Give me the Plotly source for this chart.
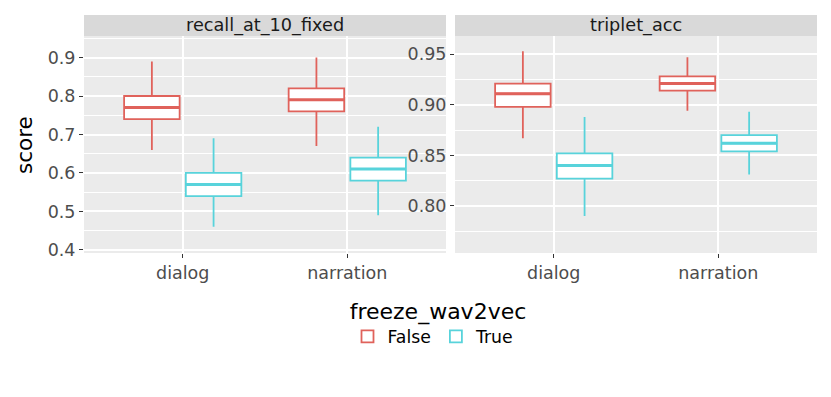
import plotly.graph_objects as go

metrics = ["recall_at_10_fixed", "triplet_acc"]
tasks = ["dialog", "narration"]
groups = ["False", "True"]

# box stats per metric and group, values ordered like `tasks`
recall_low = {"False": [0.66, 0.67], "True": [0.46, 0.49]}
recall_q1 = {"False": [0.74, 0.76], "True": [0.54, 0.58]}
recall_med = {"False": [0.77, 0.79], "True": [0.57, 0.61]}
recall_q3 = {"False": [0.80, 0.82], "True": [0.60, 0.64]}
recall_high = {"False": [0.89, 0.90], "True": [0.69, 0.72]}

triplet_low = {"False": [0.867, 0.894], "True": [0.790, 0.831]}
triplet_q1 = {"False": [0.898, 0.914], "True": [0.827, 0.854]}
triplet_med = {"False": [0.911, 0.921], "True": [0.840, 0.862]}
triplet_q3 = {"False": [0.921, 0.928], "True": [0.852, 0.870]}
triplet_high = {"False": [0.953, 0.947], "True": [0.888, 0.893]}

COLORS = {"False": "#E0625B", "True": "#58D3DB"}

stats = {
    "recall_at_10_fixed": (recall_low, recall_q1, recall_med, recall_q3, recall_high),
    "triplet_acc": (triplet_low, triplet_q1, triplet_med, triplet_q3, triplet_high),
}

W, H = 831, 397
PAGE_PAD = 8  # body margin of the html page


def px_x(px):
    return (px - PAGE_PAD) / W


def px_y(px):
    return 1 - (px - PAGE_PAD) / H


# dodge layout (matches boxgap / boxgroupgap below)
BOXGAP = 0.25
GROUPGAP = 0.1
slot = (1 - BOXGAP) / len(groups)
half_w = slot * (1 - GROUPGAP) / 2

fig = go.Figure()

for i, metric in enumerate(metrics):
    low, q1, med, q3, high = stats[metric]
    suffix = "" if i == 0 else str(i + 1)
    for k, g in enumerate(groups):
        fig.add_trace(go.Box(
            x=tasks,
            lowerfence=low[g],
            q1=q1[g],
            median=med[g],
            q3=q3[g],
            upperfence=high[g],
            name=g,
            legendgroup=g,
            offsetgroup=g,
            alignmentgroup=metric,
            showlegend=(i == 0),
            fillcolor="#FFFFFF",
            line=dict(color=COLORS[g], width=1.8),
            whiskerwidth=0,
            boxpoints=False,
            hoverinfo="skip",
            xaxis="x" + suffix,
            yaxis="y" + suffix,
        ))
        # thicker median line, as ggplot draws it
        center_off = -(1 - BOXGAP) / 2 + slot * (k + 0.5)
        for j, m in enumerate(med[g]):
            fig.add_shape(
                type="line", xref="x" + suffix, yref="y" + suffix,
                x0=j + center_off - half_w, x1=j + center_off + half_w,
                y0=m, y1=m,
                line=dict(color=COLORS[g], width=3),
            )

GRID = "#FFFFFF"
TICK = dict(size=17.5, color="#4D4D4D", family="DejaVu Sans")
y_bottom, y_top = px_y(253), px_y(36)
strip_top = px_y(15)
x_domains = [[px_x(84), px_x(446)], [px_x(455), px_x(817)]]

common_x = dict(
    type="category",
    categoryorder="array",
    categoryarray=tasks,
    range=[-0.6, 1.6],
    showgrid=True,
    gridcolor=GRID,
    gridwidth=1.5,
    ticks="outside",
    ticklen=4,
    tickwidth=1.2,
    tickcolor="#333333",
    tickfont=TICK,
    zeroline=False,
    showline=False,
    automargin=False,
    fixedrange=True,
)
common_y = dict(
    showgrid=True,
    gridcolor=GRID,
    gridwidth=1.5,
    ticks="outside",
    ticklen=4,
    tickwidth=1.2,
    tickcolor="#333333",
    tickfont=TICK,
    zeroline=False,
    showline=False,
    automargin=False,
)

fig.update_layout(
    width=W,
    height=H,
    boxmode="group",
    boxgap=BOXGAP,
    boxgroupgap=GROUPGAP,
    font=dict(family="DejaVu Sans", size=14, color="#1A1A1A"),
    paper_bgcolor="#FFFFFF",
    plot_bgcolor="#EBEBEB",
    margin=dict(t=0, b=0, l=0, r=0),
    xaxis=dict(common_x, domain=x_domains[0], anchor="y"),
    xaxis2=dict(common_x, domain=x_domains[1], anchor="y2"),
    yaxis=dict(
        common_y,
        domain=[y_bottom, y_top],
        anchor="x",
        range=[0.392, 0.956],
        tick0=0,
        dtick=0.1,
        tickformat=".1f",
        minor=dict(dtick=0.05, showgrid=True, gridcolor=GRID, gridwidth=0.7),
    ),
    yaxis2=dict(
        common_y,
        domain=[y_bottom, y_top],
        anchor="x2",
        range=[0.7535, 0.968],
        tick0=0,
        dtick=0.05,
        tickformat=".2f",
        minor=dict(dtick=0.025, showgrid=True, gridcolor=GRID, gridwidth=0.7),
    ),
    legend=dict(
        title=dict(text="freeze_wav2vec", side="top center",
                   font=dict(size=22, color="#000000")),
        orientation="h",
        x=px_x(438),
        xanchor="center",
        y=px_y(290),
        yanchor="top",
        font=dict(size=17.3, color="#000000"),
        bgcolor="rgba(0,0,0,0)",
    ),
)

# facet strips
for i, metric in enumerate(metrics):
    d = x_domains[i]
    fig.add_shape(
        type="rect", xref="paper", yref="paper",
        x0=d[0], x1=d[1], y0=y_top, y1=strip_top,
        fillcolor="#D9D9D9", line=dict(width=0), layer="below",
    )
    fig.add_annotation(
        text=metric, xref="paper", yref="paper",
        x=(d[0] + d[1]) / 2, y=(y_top + strip_top) / 2,
        xanchor="center", yanchor="middle",
        showarrow=False, font=dict(size=17.7, color="#1A1A1A"),
    )

fig.add_annotation(
    text="score", xref="paper", yref="paper",
    x=px_x(25), y=px_y(145), textangle=-90,
    xanchor="center", yanchor="middle",
    showarrow=False, font=dict(size=21.5, color="#000000"),
)

fig.write_html("out.html")
